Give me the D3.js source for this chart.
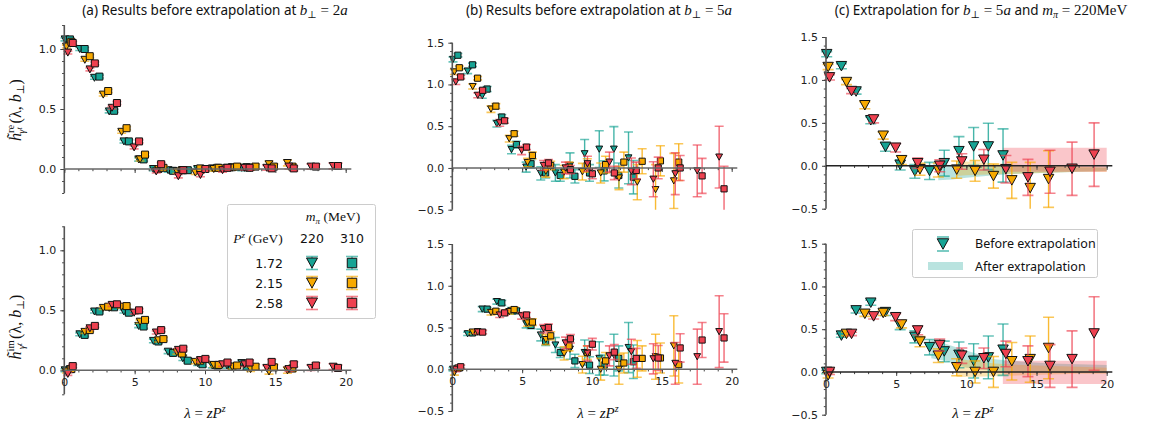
<!DOCTYPE html>
<html><head><meta charset="utf-8">
<script src="https://cdn.jsdelivr.net/npm/d3@7"></script>
<style>body{margin:0;background:#fff} svg{display:block}</style>
</head><body><svg id="c" width="1159" height="432"></svg>
<script>
// ---------------- DATA ----------------
const zIndex = [0,1,2,3,4,5,6,7,8,9,10,11,12];
const momenta = ["1.72","2.15","2.58"];
const masses = ["220","310"];
const lambdaStep = [1.047, 1.309, 1.571];      // λ per lattice step for each P^z
const shiftTri = [0.05, 0.15, 0.25];            // horizontal display shift (220 MeV)
const shiftSq  = [0.40, 0.50, 0.60];            // horizontal display shift (310 MeV)
const xTicks = [0,5,10,15,20];

// (a) b⊥ = 2a, real part  [Pz=1.72, 2.15, 2.58]
const aReTri = [
 [1.08,1.00,0.76,0.48,0.23,0.08,0.00,-0.01,-0.01,0.00,0.005,0.01,0.01],
 [1.02,0.91,0.62,0.31,0.08,0.00,-0.02,-0.03,0.00,0.01,0.01,0.04,0.05],
 [0.97,0.83,0.51,0.18,-0.02,-0.06,-0.05,-0.01,0.01,0.01,0.02,0.02,0.025]];
const aReSq = [
 [1.08,1.00,0.77,0.485,0.23,0.08,0.00,-0.015,-0.01,0.00,0.01,0.015,0.015],
 [1.06,0.94,0.65,0.34,0.12,0.01,-0.01,0.005,0.01,0.02,0.02,0.02,0.02],
 [1.05,0.88,0.55,0.23,0.04,-0.01,0.00,0.01,0.01,0.005,0.005,0.02,0.025]];
// (a) imaginary part
const aImTri = [
 [0.00,0.30,0.49,0.52,0.49,0.37,0.245,0.155,0.10,0.06,0.04,0.04,0.06],
 [-0.01,0.32,0.52,0.53,0.405,0.25,0.15,0.07,0.045,0.03,0.01,-0.01,0.00],
 [-0.03,0.35,0.545,0.48,0.315,0.17,0.085,0.05,0.05,0.02,0.01,0.02,0.03]];
const aImSq = [
 [0.01,0.295,0.49,0.525,0.48,0.365,0.24,0.145,0.08,0.05,0.04,0.03,0.03],
 [0.01,0.335,0.53,0.535,0.42,0.26,0.14,0.08,0.045,0.04,0.03,0.025,0.015],
 [0.035,0.37,0.55,0.50,0.335,0.18,0.095,0.065,0.065,0.07,0.05,0.04,0.02]];
const aErr = [0.012,0.012,0.012,0.012,0.013,0.014,0.015,0.016,0.018,0.02,0.02,0.022,0.024];

// (b) b⊥ = 5a, real part
const bReTri = [
 [1.30,1.16,0.865,0.53,0.22,0.01,-0.065,-0.06,0.03,0.17,0.225,0.225,0.12],
 [1.15,0.975,0.705,0.35,0.065,-0.04,-0.05,-0.045,-0.06,-0.12,-0.17,-0.26,-0.155],
 [1.03,0.87,0.54,0.21,0.03,0.00,0.05,0.07,-0.04,-0.135,-0.07,-0.035,0.13]];
const bReSq = [
 [1.35,1.235,0.945,0.61,0.28,0.05,-0.06,-0.09,-0.10,-0.06,-0.035,-0.09,-0.11],
 [1.20,1.075,0.74,0.41,0.15,0.03,0.01,0.03,0.04,0.07,0.08,0.085,0.07],
 [1.09,0.93,0.565,0.25,0.06,-0.02,-0.07,-0.06,-0.03,0.00,0.00,-0.095,-0.25]];
const bReTriErr = [
 [0.03,0.03,0.03,0.04,0.05,0.06,0.08,0.10,0.15,0.17,0.22,0.27,0.31],
 [0.03,0.03,0.04,0.04,0.05,0.07,0.08,0.10,0.12,0.14,0.21,0.30,0.33],
 [0.03,0.03,0.04,0.05,0.06,0.07,0.09,0.12,0.16,0.21,0.25,0.31,0.37]];
const bReSqErr = [
 [0.02,0.02,0.03,0.03,0.04,0.05,0.06,0.07,0.08,0.10,0.12,0.15,0.20],
 [0.02,0.02,0.03,0.03,0.04,0.05,0.06,0.08,0.10,0.12,0.15,0.18,0.22],
 [0.02,0.02,0.03,0.03,0.04,0.05,0.06,0.08,0.10,0.13,0.15,0.21,0.27]];
// (b) imaginary part
const bImTri = [
 [0.00,0.425,0.72,0.81,0.70,0.545,0.41,0.29,0.24,0.20,0.13,0.17,0.26],
 [-0.04,0.445,0.68,0.69,0.555,0.355,0.19,0.055,0.00,0.00,0.125,0.15,0.28],
 [0.00,0.445,0.65,0.64,0.485,0.315,0.19,0.16,0.21,0.125,0.07,0.15,0.45]];
const bImSq = [
 [0.015,0.435,0.72,0.795,0.70,0.525,0.335,0.20,0.10,0.05,0.05,0.13,0.09],
 [0.015,0.45,0.695,0.715,0.565,0.40,0.28,0.20,0.10,0.075,0.13,0.135,0.055],
 [0.03,0.445,0.675,0.65,0.50,0.365,0.30,0.205,0.13,0.135,0.255,0.35,0.375]];
const bImTriErr = [
 [0.02,0.02,0.03,0.03,0.04,0.05,0.07,0.09,0.12,0.15,0.20,0.25,0.30],
 [0.03,0.02,0.03,0.03,0.04,0.06,0.08,0.10,0.13,0.18,0.22,0.27,0.36],
 [0.03,0.02,0.03,0.04,0.05,0.07,0.09,0.12,0.15,0.18,0.25,0.33,0.43]];
const bImSqErr = [
 [0.02,0.02,0.02,0.03,0.03,0.04,0.05,0.06,0.08,0.10,0.12,0.15,0.20],
 [0.02,0.02,0.03,0.03,0.04,0.05,0.06,0.08,0.10,0.12,0.15,0.18,0.22],
 [0.02,0.02,0.03,0.03,0.04,0.05,0.07,0.09,0.12,0.15,0.17,0.21,0.29]];

// (c) extrapolated bands (λ, lower, upper) per P^z
const cReBandLam = [[8.0,9,10,12,14,16,18,20],[9.3,10,12,14,16,18,20],[12.6,14,16,18,20]];
const cReBandLo  = [[-0.17,-0.16,-0.14,-0.11,-0.09,-0.08,-0.07,-0.06],[-0.12,-0.11,-0.10,-0.09,-0.08,-0.07,-0.07],[-0.07,-0.07,-0.07,-0.07,-0.07]];
const cReBandHi  = [[0.02,0.01,0.00,-0.01,-0.01,-0.01,-0.02,-0.02],[0.06,0.05,0.03,0.01,0.00,-0.01,-0.02],[0.21,0.21,0.21,0.21,0.21]];
const cImBandLam = [[7.5,8.5,10,12,14,16,18,20],[9.3,10,12,14,16,18,20],[12.6,14,16,18,20]];
const cImBandLo  = [[0.16,0.13,0.05,0.01,0.00,-0.01,-0.01,0.00],[-0.06,-0.06,-0.05,-0.04,-0.03,-0.02,-0.02],[-0.14,-0.14,-0.14,-0.14,-0.14]];
const cImBandHi  = [[0.38,0.33,0.25,0.15,0.12,0.10,0.09,0.08],[0.16,0.14,0.10,0.08,0.07,0.06,0.05],[0.13,0.13,0.13,0.13,0.13]];

// ---------------- STYLE ----------------
const COLORS = ["#17a394","#f7a900","#ee4150"];
const MATH = "'Liberation Serif','DejaVu Serif',serif";
const SANS = "'DejaVu Sans',sans-serif";
const TITLE = "'Noto Sans','Open Sans',sans-serif";

const svg = d3.select("#c");

const panels = [
 {id:"aT", x:[64.3,345.7], y:[193,25],    dom:[-0.2,1.2], major:[0,0.5,1.0], tri:aReTri, sq:aReSq, triErr:[aErr,aErr,aErr], sqErr:[aErr,aErr,aErr], xlab:false, ms:7, cap:4.5},
 {id:"aB", x:[64.3,345.7], y:[394.3,226.3],dom:[-0.2,1.2], major:[0,0.5,1.0], tri:aImTri, sq:aImSq, triErr:[aErr,aErr,aErr], sqErr:[aErr,aErr,aErr], xlab:true, ms:7, cap:4.5},
 {id:"bT", x:[452.3,731.7],y:[209.7,42.7], dom:[-0.5,1.5], major:[-0.5,0,0.5,1.0,1.5], tri:bReTri, sq:bReSq, triErr:bReTriErr, sqErr:bReSqErr, xlab:false, ms:6.2, cap:4.5},
 {id:"bB", x:[452.3,731.7],y:[411,244],    dom:[-0.5,1.5], major:[-0.5,0,0.5,1.0,1.5], tri:bImTri, sq:bImSq, triErr:bImTriErr, sqErr:bImSqErr, xlab:true, ms:6.2, cap:4.5},
 {id:"cT", x:[826,1106.7], y:[208.7,37],   dom:[-0.5,1.5], major:[-0.5,0,0.5,1.0,1.5], tri:bReTri, sq:null, triErr:bReTriErr, xlab:false, ms:9.5, cap:5.5, bands:[cReBandLam,cReBandLo,cReBandHi]},
 {id:"cB", x:[826,1106.7], y:[414.7,243.7],dom:[-0.5,1.5], major:[-0.5,0,0.5,1.0,1.5], tri:bImTri, sq:null, triErr:bImTriErr, xlab:true, ms:9.5, cap:5.5, bands:[cImBandLam,cImBandLo,cImBandHi]},
];

function triPath(s){const w=s*0.55, h=s*0.5; return `M${-w},${-h}L${w},${-h}L0,${h}Z`;}
function sqPath(s){const h=s*0.5; return `M${-h},${-h}H${h}V${h}H${-h}Z`;}

panels.forEach(p=>{
  const x = d3.scaleLinear().domain([0,20]).range(p.x);
  const y = d3.scaleLinear().domain(p.dom).range(p.y);
  const g = svg.append("g");
  const clipId = "clip"+p.id;
  svg.append("clipPath").attr("id",clipId).append("rect")
    .attr("x",x(0)-12).attr("y",y(p.dom[1])).attr("width",x(20.6)-x(0)+12).attr("height",y(p.dom[0])-y(p.dom[1]));

  const plot = g.append("g").attr("clip-path",`url(#${clipId})`);
  if(p.bands){
    const [L,LO,HI] = p.bands;
    [0,1,2].forEach(i=>{
      const pts = L[i].map((l,k)=>({l, lo:LO[i][k], hi:HI[i][k]}));
      plot.append("path").datum(pts)
        .attr("d", d3.area().x(d=>x(d.l)).y0(d=>y(d.lo)).y1(d=>y(d.hi)))
        .attr("fill",COLORS[i]).attr("fill-opacity",0.3);
    });
  }

  // axes
  const minorY = d3.range(Math.round(p.dom[0]*10), Math.round(p.dom[1]*10)+1).map(v=>v/10);
  const axY = g.append("g").attr("transform",`translate(${x(0)},0)`)
    .call(d3.axisLeft(y).tickValues(minorY).tickSize(2.2).tickFormat(""));
  axY.select(".domain").remove();
  const axYM = g.append("g").attr("transform",`translate(${x(0)},0)`)
    .call(d3.axisLeft(y).tickValues(p.major).tickSize(4).tickPadding(4).tickFormat(d3.format(".1f")));
  axYM.select(".domain").remove();
  g.append("line").attr("x1",x(0)).attr("x2",x(0)).attr("y1",y(p.dom[0])).attr("y2",y(p.dom[1]))
    .attr("stroke","#555").attr("stroke-width",1.6);

  const axX = g.append("g").attr("transform",`translate(0,${y(0)})`)
    .call(d3.axisBottom(x).tickValues(d3.range(0,21)).tickSize(2.2).tickFormat(""));
  axX.select(".domain").remove();
  const axXM = g.append("g").attr("transform",`translate(0,${y(0)})`)
    .call(d3.axisBottom(x).tickValues(xTicks).tickSize(4).tickPadding(4).tickFormat(p.xlab? d3.format("d"):""));
  axXM.select(".domain").remove();
  g.append("line").attr("x1",x(0)).attr("x2",x(20.4)).attr("y1",y(0)).attr("y2",y(0))
    .attr("stroke", p.id[0]==="c" ? "#222" : "#666").attr("stroke-width",1.6);
  g.selectAll(".tick line").attr("stroke","#444").attr("stroke-width",1);
  g.selectAll(".tick text").attr("font-family",SANS).attr("font-size",11).attr("fill","#222");

  // series
  const drawSeries = (vals, errs, ci, shape, shifts)=>{
    const pts = zIndex.map((z,k)=>({l: z*lambdaStep[ci]+shifts[ci], v: vals[k], e: errs[k]}));
    const sg = plot.append("g");
    const col = COLORS[ci];
    sg.selectAll("line.eb").data(pts).join("line").attr("class","eb")
      .attr("x1",d=>x(d.l)).attr("x2",d=>x(d.l)).attr("y1",d=>y(d.v-d.e)).attr("y2",d=>y(d.v+d.e))
      .attr("stroke",col).attr("stroke-opacity",0.8).attr("stroke-width",1.4);
    ["lo","hi"].forEach(side=>{
      sg.selectAll("line.cap"+side).data(pts).join("line").attr("class","cap"+side)
        .attr("x1",d=>x(d.l)-p.cap).attr("x2",d=>x(d.l)+p.cap)
        .attr("y1",d=>y(side==="lo"?d.v-d.e:d.v+d.e)).attr("y2",d=>y(side==="lo"?d.v-d.e:d.v+d.e))
        .attr("stroke",col).attr("stroke-opacity",0.65).attr("stroke-width",1.6);
    });
    sg.selectAll("path.mk").data(pts).join("path").attr("class","mk")
      .attr("transform",d=>`translate(${x(d.l)},${y(d.v)})`)
      .attr("d", shape==="tri"? triPath(p.ms) : sqPath(p.ms))
      .attr("fill",col).attr("stroke","#111").attr("stroke-width",1);
  };
  [0,1,2].forEach(ci=>{
    drawSeries(p.tri[ci], p.triErr[ci], ci, "tri", shiftTri);
    if(p.sq) drawSeries(p.sq[ci], p.sqErr[ci], ci, "sq", shiftSq);
  });
});

// ---------------- TEXT ----------------
function mathTitle(cx, cy, prefix, parts){
  const t = svg.append("text").attr("x",cx).attr("y",cy).attr("text-anchor","middle")
    .attr("font-family",TITLE).attr("font-size",13.5).attr("fill","#111");
  t.append("tspan").text(prefix);
  parts.forEach(([txt,opt])=>{
    const s = t.append("tspan").text(txt).attr("font-family",MATH).attr("font-size",opt&&opt.size||15);
    if(opt&&opt.it) s.attr("font-style","italic");
    if(opt&&opt.dy) s.attr("dy",opt.dy);
    if(opt&&opt.sans) s.attr("font-family",TITLE).attr("font-size",13.5);
  });
  return t;
}
mathTitle(215, 14.5, "(a)  Results before extrapolation at ",
  [["b",{it:1}],["⊥",{size:10,dy:3}],[" = 2",{dy:-3}],["a",{it:1}]]);
mathTitle(599, 14.5, "(b) Results before extrapolation at ",
  [["b",{it:1}],["⊥",{size:10,dy:3}],[" = 5",{dy:-3}],["a",{it:1}]]);
mathTitle(981, 14.5, "(c) Extrapolation for ",
  [["b",{it:1}],["⊥",{size:10,dy:3}],[" = 5",{dy:-3}],["a",{it:1}],[" and ",{sans:1}],["m",{it:1}],["π",{size:10,dy:3,it:1}],[" = 220MeV",{dy:-3}]]);

// x labels
[[205,418],[598,418],[973,418]].forEach(([cx,cy])=>{
  const t = svg.append("text").attr("x",cx).attr("y",cy).attr("text-anchor","middle")
    .attr("font-family",MATH).attr("font-size",15).attr("fill","#111");
  t.append("tspan").text("λ").attr("font-style","italic");
  t.append("tspan").text(" = ");
  t.append("tspan").text("zP").attr("font-style","italic");
  t.append("tspan").text("z").attr("font-style","italic").attr("font-size",10).attr("dy",-6);
});

// y labels
[["re",110],["im",327]].forEach(([sup,cy])=>{
  const t = svg.append("text").attr("transform",`translate(21,${cy}) rotate(-90)`).attr("text-anchor","middle")
    .attr("font-family",MATH).attr("font-size",16).attr("fill","#111");
  t.append("tspan").text("h̃").attr("font-style","italic");
  t.append("tspan").text(sup).attr("font-size",10.5).attr("dy",-7);
  t.append("tspan").text("γ").attr("font-style","italic").attr("font-size",10.5).attr("dy",11).attr("dx",-9);
  t.append("tspan").text("t").attr("font-style","italic").attr("font-size",8).attr("dy",-3);
  t.append("tspan").text(" (λ, ").attr("dy",-1);
  t.append("tspan").text("b").attr("font-style","italic");
  t.append("tspan").text("⊥").attr("font-size",10.5).attr("dy",3);
  t.append("tspan").text(")").attr("dy",-3);
});

// legend (a)
const lg = svg.append("g");
lg.append("rect").attr("x",227.5).attr("y",204.5).attr("width",148).attr("height",114).attr("rx",2)
  .attr("fill","#fff").attr("fill-opacity",0.9).attr("stroke","#ccc");
{
  const t = lg.append("text").attr("x",333).attr("y",221).attr("text-anchor","middle").attr("font-family",MATH).attr("font-size",13.5).attr("fill","#111");
  t.append("tspan").text("m").attr("font-style","italic");
  t.append("tspan").text("π").attr("font-style","italic").attr("font-size",9).attr("dy",3);
  t.append("tspan").text(" (MeV)").attr("dy",-3);
  const t2 = lg.append("text").attr("x",258).attr("y",243).attr("text-anchor","middle").attr("font-family",MATH).attr("font-size",13.5).attr("fill","#111");
  t2.append("tspan").text("P").attr("font-style","italic");
  t2.append("tspan").text("z").attr("font-style","italic").attr("font-size",9).attr("dy",-5);
  t2.append("tspan").text(" (GeV)").attr("dy",5);
  masses.forEach((m,i)=>lg.append("text").attr("x",[312,352][i]).attr("y",243).attr("text-anchor","middle")
    .attr("font-family",SANS).attr("font-size",12.5).attr("fill","#111").text(m));
  momenta.forEach((m,i)=>{
    const cy = 263+20*i;
    lg.append("text").attr("x",283).attr("y",cy+4.5).attr("text-anchor","end").attr("font-family",SANS).attr("font-size",12.5).attr("fill","#111").text(m);
    [[312,"tri"],[352,"sq"]].forEach(([cx,sh])=>{
      lg.append("line").attr("x1",cx-6).attr("x2",cx+6).attr("y1",cy-6.5).attr("y2",cy-6.5).attr("stroke",COLORS[i]).attr("stroke-opacity",0.65).attr("stroke-width",1.6);
      lg.append("line").attr("x1",cx-6).attr("x2",cx+6).attr("y1",cy+6.5).attr("y2",cy+6.5).attr("stroke",COLORS[i]).attr("stroke-opacity",0.65).attr("stroke-width",1.6);
      lg.append("line").attr("x1",cx).attr("x2",cx).attr("y1",cy-6.5).attr("y2",cy+6.5).attr("stroke",COLORS[i]).attr("stroke-opacity",0.8).attr("stroke-width",1.4);
      lg.append("path").attr("transform",`translate(${cx},${cy})`).attr("d",sh==="tri"?triPath(10):sqPath(9.5))
        .attr("fill",COLORS[i]).attr("stroke","#111").attr("stroke-width",1);
    });
  });
}

// legend (c)
const lc = svg.append("g");
lc.append("rect").attr("x",912.5).attr("y",229.5).attr("width",185).attr("height",48).attr("rx",2)
  .attr("fill","#fff").attr("fill-opacity",0.9).attr("stroke","#ccc");
{
  const cx=943, cy=244;
  lc.append("line").attr("x1",cx-6).attr("x2",cx+6).attr("y1",cy-7).attr("y2",cy-7).attr("stroke",COLORS[0]).attr("stroke-opacity",0.7).attr("stroke-width",1.6);
  lc.append("line").attr("x1",cx-6).attr("x2",cx+6).attr("y1",cy+7).attr("y2",cy+7).attr("stroke",COLORS[0]).attr("stroke-opacity",0.7).attr("stroke-width",1.6);
  lc.append("path").attr("transform",`translate(${cx},${cy})`).attr("d",triPath(10.5)).attr("fill",COLORS[0]).attr("stroke","#111");
  lc.append("text").attr("x",975).attr("y",248).attr("font-family",TITLE).attr("font-size",12.5).attr("fill","#111").text("Before extrapolation");
  lc.append("rect").attr("x",928).attr("y",262).attr("width",35).attr("height",8).attr("fill",COLORS[0]).attr("fill-opacity",0.3);
  lc.append("text").attr("x",975).attr("y",271).attr("font-family",TITLE).attr("font-size",12.5).attr("fill","#111").text("After extrapolation");
}
</script></body></html>
